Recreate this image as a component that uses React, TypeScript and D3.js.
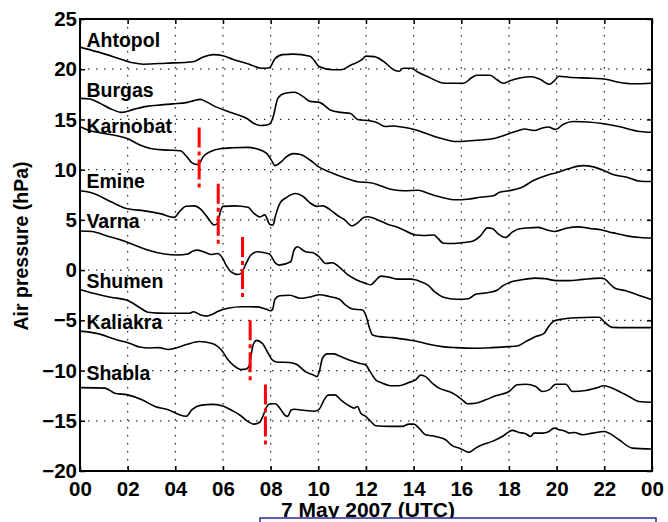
import React, { useEffect, useRef } from 'react';
import * as d3 from 'd3';

// hours of 7 May 2007 (UTC) / air pressure offsets in hPa
const stations = ['Ahtopol', 'Burgas', 'Karnobat', 'Emine', 'Varna', 'Shumen', 'Kaliakra', 'Shabla'];

const ahtopol: [number, number][] = [
  [0, 22.2], [0.7, 21.75], [1.4, 21.25], [2.2, 20.65], [2.65, 20.5], [3.6, 20.6], [4.75, 20.75],
  [5.15, 21.2], [5.6, 21.45], [6.0, 21.35], [6.4, 21.0], [7.1, 20.5], [7.6, 20.1], [7.95, 20.15],
  [8.18, 21.05], [8.5, 21.45], [8.95, 21.5], [9.65, 21.3], [10.05, 20.25], [10.6, 19.95], [10.95, 19.95],
  [11.35, 20.4], [11.8, 20.9], [12.0, 21.3], [12.35, 21.25], [12.75, 20.75], [13.2, 19.9], [13.4, 19.8],
  [13.55, 20.1], [13.9, 20.1], [14.15, 19.75], [14.6, 19.25], [15.3, 18.6], [16.1, 18.6], [16.4, 19.1],
  [16.65, 19.4], [17.2, 19.4], [17.5, 18.95], [17.75, 18.6], [18.05, 18.85], [18.5, 19.15], [18.95, 19.25],
  [19.3, 19.0], [19.7, 18.5], [19.9, 18.85], [20.1, 19.3], [20.5, 19.2], [21.5, 19.1], [22.05, 19.0],
  [22.6, 18.7], [23.2, 18.55], [24, 18.6],
];

const burgas: [number, number][] = [
  [0, 17.1], [0.4, 17.03], [0.85, 16.6], [1.25, 16.1], [1.75, 15.7], [2.25, 16.0], [2.8, 16.3],
  [3.4, 16.45], [3.9, 16.55], [4.5, 16.7], [4.75, 16.85], [5.05, 17.0], [5.3, 16.75], [5.75, 16.2],
  [6.4, 15.65], [7.0, 15.1], [7.3, 14.6], [7.55, 14.4], [7.85, 14.45], [8.0, 14.65], [8.12, 15.4],
  [8.3, 17.1], [8.6, 17.6], [9.0, 17.7], [9.35, 17.3], [9.65, 16.8], [10.05, 16.7], [10.5, 15.95],
  [10.95, 15.7], [11.35, 15.6], [11.65, 15.0], [12.2, 14.85], [12.45, 14.7], [12.8, 14.3], [13.15, 14.35],
  [13.5, 14.25], [14.1, 13.95], [14.65, 13.5], [15.25, 13.05], [15.8, 12.8], [16.25, 12.85], [16.8, 12.95],
  [17.35, 13.1], [17.9, 13.5], [18.4, 13.9], [18.65, 14.05], [19.05, 13.9], [19.4, 14.15], [19.65, 14.25],
  [19.95, 14.0], [20.3, 14.55], [20.7, 14.8], [21.3, 14.75], [21.9, 14.6], [22.6, 14.3], [23.5, 13.8],
  [24, 13.72],
];

const karnobat: [number, number][] = [
  [0, 14.27], [0.42, 13.88], [0.84, 13.68], [1.4, 13.45], [1.96, 13.12], [2.52, 12.45], [3.08, 12.05],
  [3.64, 11.95], [4.2, 11.88], [4.48, 11.3], [4.69, 10.7], [4.9, 10.52], [5.01, 10.63], [5.17, 11.29],
  [5.46, 11.78], [5.87, 12.08], [6.43, 12.18], [7.0, 12.22], [7.41, 12.08], [7.83, 11.62], [8.04, 10.9],
  [8.18, 10.4], [8.45, 10.8], [8.67, 11.3], [8.95, 11.6], [9.25, 11.5], [9.65, 10.96], [10.03, 10.25],
  [10.5, 9.75], [11.1, 9.2], [11.65, 8.8], [12.2, 8.7], [12.6, 8.4], [13.15, 8.0], [13.6, 7.9],
  [14.2, 7.95], [14.6, 7.65], [15.25, 7.2], [15.75, 7.0], [16.25, 7.05], [16.8, 7.25], [17.35, 7.4],
  [17.6, 7.75], [18.0, 7.9], [18.5, 8.2], [19.05, 8.95], [19.6, 9.45], [20.0, 9.7], [20.5, 10.1],
  [21.1, 10.4], [21.5, 10.3], [22.0, 9.9], [22.4, 9.5], [22.95, 9.25], [23.5, 8.85], [24, 8.82],
];

const emine: [number, number][] = [
  [0, 7.9], [0.3, 7.8], [0.6, 7.6], [1.3, 6.8], [2.0, 6.1], [2.7, 5.9], [3.4, 5.6], [3.95, 5.25],
  [4.2, 5.9], [4.45, 6.35], [4.8, 6.4], [5.05, 6.1], [5.35, 5.25], [5.62, 4.5], [5.75, 4.6], [5.9, 5.9],
  [6.0, 6.35], [6.5, 6.4], [7.05, 6.25], [7.3, 5.65], [7.55, 5.3], [7.75, 5.5], [7.97, 4.55], [8.1, 4.5],
  [8.2, 5.4], [8.4, 6.7], [8.67, 7.25], [9.05, 7.62], [9.35, 7.35], [9.65, 6.7], [9.95, 6.35], [10.2, 6.4],
  [10.5, 6.0], [10.8, 5.45], [11.08, 5.05], [11.42, 4.4], [11.65, 4.7], [11.9, 5.23], [12.08, 5.31],
  [12.45, 5.05], [12.88, 4.6], [13.4, 4.2], [14.1, 3.49], [14.4, 3.45], [14.85, 3.5], [15.0, 3.2],
  [15.25, 2.68], [15.7, 2.65], [16.1, 2.75], [16.5, 2.9], [16.8, 3.4], [17.1, 4.2], [17.3, 4.15],
  [17.55, 3.6], [17.85, 3.25], [18.15, 3.8], [18.4, 4.1], [18.8, 4.2], [19.2, 4.25], [19.6, 4.0],
  [19.92, 3.85], [20.45, 4.2], [20.9, 4.3], [21.4, 4.15], [21.9, 4.0], [22.2, 3.8], [22.5, 3.65],
  [23.0, 3.38], [23.5, 3.25], [24, 3.2],
];

const varna: [number, number][] = [
  [0, 3.9], [0.5, 3.85], [1.2, 3.35], [1.72, 3.0], [2.28, 2.5], [2.84, 2.0], [3.54, 1.6], [4.1, 1.5],
  [4.52, 1.6], [4.73, 1.89], [4.94, 1.99], [5.29, 1.73], [5.5, 1.56], [5.78, 1.66], [5.99, 1.16],
  [6.13, 0.5], [6.34, -0.17], [6.62, -0.43], [6.76, -0.33], [6.97, 0.66], [7.17, 1.5], [7.45, 1.83],
  [7.73, 1.73], [7.95, 1.6], [8.21, 0.66], [8.35, 0.5], [8.84, 0.83], [8.98, 1.99], [9.12, 2.32],
  [9.47, 1.82], [9.75, 1.75], [10.03, 1.32], [10.31, 0.66], [10.59, 0.73], [10.87, 0.33], [11.2, -0.4],
  [11.57, -0.93], [11.99, -1.32], [12.2, -1.46], [12.38, -1.1], [12.62, -0.6], [12.95, -0.7], [13.3, -0.9],
  [13.9, -0.9], [14.3, -1.15], [14.6, -1.5], [14.9, -2.2], [15.25, -2.7], [15.8, -2.9], [16.3, -2.85],
  [16.6, -2.4], [17.1, -2.25], [17.5, -2.0], [17.75, -1.55], [18.05, -1.2], [18.45, -1.0], [19.1, -0.8],
  [19.5, -0.85], [20.0, -1.05], [20.5, -1.05], [21.1, -0.92], [21.85, -0.8], [22.0, -0.85], [22.2, -1.3],
  [22.45, -1.8], [22.9, -2.05], [23.5, -2.55], [24, -2.95],
];

const shumen: [number, number][] = [
  [0, -1.92], [0.56, -2.3], [1.28, -2.7], [1.98, -3.0], [2.52, -3.75], [2.85, -4.2], [3.3, -4.28],
  [4.0, -4.3], [4.6, -4.3], [4.76, -4.15], [5.1, -4.5], [5.3, -4.58], [5.55, -4.4], [5.8, -4.1],
  [6.2, -3.8], [6.8, -3.65], [7.45, -3.66], [7.8, -3.88], [8.0, -4.05], [8.08, -3.9], [8.18, -2.9],
  [8.38, -2.55], [8.8, -2.5], [9.25, -2.8], [9.7, -2.65], [10.05, -2.45], [10.45, -2.62], [10.87, -2.88],
  [11.15, -3.48], [11.43, -3.87], [11.85, -3.97], [11.99, -4.47], [12.13, -5.63], [12.27, -6.46],
  [12.55, -6.62], [13.1, -6.72], [13.8, -6.95], [14.08, -7.05], [14.64, -7.38], [15.2, -7.62],
  [15.76, -7.72], [16.6, -7.78], [17.3, -7.72], [18.0, -7.62], [18.35, -7.55], [18.7, -7.12],
  [19.12, -6.62], [19.47, -6.29], [19.68, -5.56], [19.89, -5.07], [20.24, -4.87], [20.8, -4.74],
  [21.5, -4.7], [21.78, -4.7], [21.99, -5.13], [22.34, -5.7], [22.9, -5.73], [24, -5.73],
];

const kaliakra: [number, number][] = [
  [0, -6.07], [0.7, -6.3], [1.5, -6.9], [2.1, -7.3], [2.5, -7.66], [2.9, -7.75], [3.3, -7.72],
  [3.7, -7.9], [3.95, -7.8], [4.1, -7.71], [4.5, -7.39], [5.0, -7.1], [5.55, -7.3], [5.95, -8.0],
  [6.2, -8.9], [6.45, -9.5], [6.75, -9.9], [6.98, -9.85], [7.1, -9.5], [7.17, -8.6], [7.27, -7.4],
  [7.4, -7.0], [7.65, -7.3], [7.9, -8.3], [8.05, -8.9], [8.25, -9.15], [8.8, -9.2], [9.1, -9.4],
  [9.45, -10.1], [9.75, -10.4], [9.95, -10.6], [10.05, -10.0], [10.17, -8.8], [10.38, -8.34],
  [10.66, -8.34], [10.94, -8.61], [11.29, -8.94], [11.71, -9.27], [11.99, -9.44], [12.13, -9.93],
  [12.41, -10.93], [12.69, -11.26], [13.1, -11.52], [13.38, -11.52], [13.8, -11.19], [14.08, -10.93],
  [14.29, -10.45], [14.5, -10.6], [14.78, -11.26], [15.06, -11.75], [15.48, -12.09], [15.76, -12.42],
  [16.04, -12.91], [16.25, -13.3], [16.6, -13.25], [17.02, -12.91], [17.44, -12.52], [18.0, -12.09],
  [18.35, -11.42], [18.7, -11.36], [19.12, -11.59], [19.4, -12.09], [19.68, -11.92], [19.96, -11.36],
  [20.38, -11.36], [20.66, -12.09], [21.22, -11.99], [21.64, -11.75], [21.99, -11.52], [22.34, -11.75],
  [22.76, -12.25], [23.03, -12.58], [23.45, -13.08], [24, -13.15],
];

const shabla: [number, number][] = [
  [0, -11.7], [1.05, -11.75], [1.45, -12.25], [2.0, -12.42], [2.6, -12.9], [3.15, -13.58], [3.7, -13.9],
  [4.15, -14.38], [4.45, -14.55], [4.7, -13.9], [5.05, -13.47], [5.55, -13.37], [5.95, -13.5], [6.4, -14.0],
  [6.75, -14.5], [7.0, -15.0], [7.3, -15.33], [7.53, -15.17], [7.7, -14.4], [7.82, -13.67], [7.95, -13.33],
  [8.2, -13.3], [8.4, -13.8], [8.6, -14.45], [8.72, -14.56], [8.85, -13.95], [9.0, -13.85], [9.3, -13.93],
  [9.85, -14.05], [10.05, -13.8], [10.25, -12.9], [10.4, -12.45], [10.7, -12.42], [10.94, -12.91],
  [11.29, -13.51], [11.5, -13.74], [11.64, -13.58], [11.78, -14.24], [11.99, -14.57], [12.2, -15.07],
  [12.41, -15.5], [12.97, -15.56], [13.52, -15.56], [13.8, -15.33], [14.01, -15.33], [14.22, -15.73],
  [14.5, -16.39], [14.92, -16.56], [15.34, -16.89], [15.62, -17.48], [15.95, -17.75], [16.32, -18.15],
  [16.6, -17.72], [16.88, -17.38], [17.3, -17.05], [17.72, -16.56], [18.14, -15.96], [18.42, -16.16],
  [18.7, -16.29], [18.91, -16.56], [19.05, -16.23], [19.4, -16.23], [19.68, -16.06], [19.89, -15.73],
  [20.1, -15.89], [20.38, -16.06], [20.52, -16.23], [20.73, -16.16], [21.08, -16.39], [21.5, -16.23],
  [21.99, -16.06], [22.2, -16.23], [22.62, -16.89], [23.17, -17.72], [24, -17.81],
];

const series = [ahtopol, burgas, karnobat, emine, varna, shumen, kaliakra, shabla];

// where each station name sits (hour, hPa at the text baseline)
const labelHour = 0.27;
const labelValues = [22.25, 17.25, 13.65, 8.15, 4.2, -1.75, -5.85, -10.9];

// red dash-dot markers: hour, upper and lower end (hPa)
const markerHours = [5.0, 5.8, 6.82, 7.14, 7.78];
const markerTops = [14.2, 8.6, 3.3, -5.0, -11.4];
const markerBottoms = [8.0, 2.3, -2.9, -11.25, -17.6];

const hourTicks = [0, 2, 4, 6, 8, 10, 12, 14, 16, 18, 20, 22, 24];
const hourLabels = ['00', '02', '04', '06', '08', '10', '12', '14', '16', '18', '20', '22', '00'];
const pressureTicks = [-20, -15, -10, -5, 0, 5, 10, 15, 20, 25];

const FONT = '"Liberation Sans", Arial, Helvetica, sans-serif';

const App = () => {
  const ref = useRef<SVGSVGElement>(null);

  useEffect(() => {
    const svg = d3.select(ref.current);
    svg.selectAll('*').remove();

    const left = 80;
    const right = 652;
    const top = 19;
    const bottom = 471;

    const x = d3.scaleLinear().domain([0, 24]).range([left, right]);
    const y = d3.scaleLinear().domain([-20, 25]).range([bottom, top]);

    svg.append('rect').attr('width', 668).attr('height', 522).attr('fill', '#fff');

    // dotted grid
    const grid = svg.append('g').attr('stroke', '#222').attr('stroke-width', 1.2).attr('stroke-dasharray', '1.4 6.6');
    hourTicks.slice(1, -1).forEach((h) => {
      grid.append('line').attr('x1', x(h)).attr('x2', x(h)).attr('y1', top).attr('y2', bottom);
    });
    pressureTicks.slice(1, -1).forEach((p) => {
      grid.append('line').attr('x1', left).attr('x2', right).attr('y1', y(p)).attr('y2', y(p));
    });

    // pressure traces
    const line = d3
      .line<[number, number]>()
      .x((d) => x(d[0]))
      .y((d) => y(d[1]))
      .curve(d3.curveMonotoneX);

    series.forEach((s) => {
      svg
        .append('path')
        .attr('d', line(s))
        .attr('fill', 'none')
        .attr('stroke', '#000')
        .attr('stroke-width', 1.6)
        .attr('stroke-linejoin', 'round');
    });

    // markers
    markerHours.forEach((h, i) => {
      svg
        .append('line')
        .attr('x1', x(h))
        .attr('x2', x(h))
        .attr('y1', y(markerTops[i]))
        .attr('y2', y(markerBottoms[i]))
        .attr('stroke', '#ff0000')
        .attr('stroke-width', 3)
        .attr('stroke-dasharray', '20 4 4 4');
    });

    // station names
    stations.forEach((name, i) => {
      svg
        .append('text')
        .attr('x', x(labelHour))
        .attr('y', y(labelValues[i]))
        .attr('font-family', FONT)
        .attr('font-size', 19.5)
        .attr('font-weight', 'bold')
        .attr('fill', '#000')
        .text(name);
    });

    // axes with inward ticks on all four sides
    const fmt = (h: d3.NumberValue) => hourLabels[hourTicks.indexOf(+h)];

    const xAxis = svg
      .append('g')
      .attr('transform', `translate(0,${bottom})`)
      .call(d3.axisBottom(x).tickValues(hourTicks).tickFormat(fmt).tickSizeInner(-5).tickSizeOuter(0).tickPadding(10));
    svg
      .append('g')
      .attr('transform', `translate(0,${top})`)
      .call(d3.axisTop(x).tickValues(hourTicks).tickFormat(() => '').tickSizeInner(-5).tickSizeOuter(0));
    const yAxis = svg
      .append('g')
      .attr('transform', `translate(${left},0)`)
      .call(d3.axisLeft(y).tickValues(pressureTicks).tickFormat(d3.format('d')).tickSizeInner(-5).tickSizeOuter(0).tickPadding(3));
    svg
      .append('g')
      .attr('transform', `translate(${right},0)`)
      .call(d3.axisRight(y).tickValues(pressureTicks).tickFormat(() => '').tickSizeInner(-5).tickSizeOuter(0));

    svg.selectAll('.domain').remove();
    svg.selectAll('.tick line').attr('stroke', '#000').attr('stroke-width', 1.5);

    [xAxis, yAxis].forEach((ax) => {
      ax.selectAll('text')
        .attr('font-family', FONT)
        .attr('font-size', 20.5)
        .attr('font-weight', 'bold')
        .attr('fill', '#000');
    });

    svg
      .append('rect')
      .attr('x', left)
      .attr('y', top)
      .attr('width', right - left)
      .attr('height', bottom - top)
      .attr('fill', 'none')
      .attr('stroke', '#000')
      .attr('stroke-width', 2);

    // axis titles
    svg
      .append('text')
      .attr('transform', `translate(28,${(top + bottom) / 2 + 1}) rotate(-90)`)
      .attr('text-anchor', 'middle')
      .attr('font-family', FONT)
      .attr('font-size', 19.5)
      .attr('font-weight', 'bold')
      .text('Air pressure (hPa)');

    svg
      .append('text')
      .attr('x', (left + right) / 2 + 2)
      .attr('y', 517)
      .attr('text-anchor', 'middle')
      .attr('font-family', FONT)
      .attr('font-size', 21)
      .attr('font-weight', 'bold')
      .text('7 May 2007 (UTC)');

    // framed strip along the bottom edge
    svg
      .append('rect')
      .attr('x', 260)
      .attr('y', 518)
      .attr('width', 396)
      .attr('height', 12)
      .attr('fill', '#fbf7fb')
      .attr('stroke', '#2b2b8f')
      .attr('stroke-width', 1.5);
  }, []);

  return <svg ref={ref} width={668} height={522} style={{ position: 'absolute', left: 0, top: 0 }} />;
};

export default App;
